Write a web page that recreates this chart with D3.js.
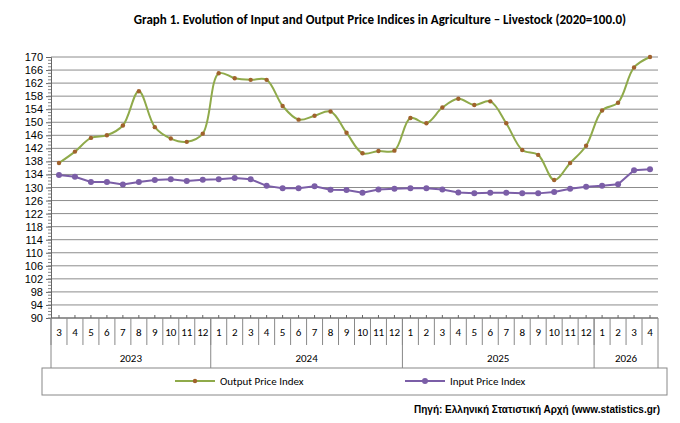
<!DOCTYPE html>
<html><head><meta charset="utf-8">
<script src="https://cdn.jsdelivr.net/npm/d3@7"></script>
<style>body{margin:0;background:#fff;font-family:Calibri,Carlito,"Liberation Sans",Arial,sans-serif}</style>
</head><body>
<svg id="chart" width="680" height="423"></svg>
<script>
const months = [3,4,5,6,7,8,9,10,11,12, 1,2,3,4,5,6,7,8,9,10,11,12, 1,2,3,4,5,6,7,8,9,10,11,12, 1,2,3,4]
const years = [{label:'2023', n:10},{label:'2024', n:12},{label:'2025', n:12},{label:'2026', n:4}]
const outputIdx = [137.5,141,145.2,146,149,159.5,148.5,145,144,146.5, 165,163.5,163,163,155,150.8,152,153.3,146.8,140.5,141.2,141.3, 151.3,149.7,154.5,157.2,155.3,156.4,149.7,141.5,140,132.3,137.5,142.8, 153.6,156,166.8,170]
const inputIdx = [133.8,133.3,131.7,131.7,130.9,131.7,132.3,132.5,132,132.4, 132.5,132.9,132.5,130.5,129.8,129.8,130.4,129.3,129.2,128.4,129.4,129.6, 129.8,129.8,129.4,128.5,128.2,128.4,128.4,128.2,128.2,128.6,129.6,130.2, 130.5,131,135.3,135.6]
const yTicks = d3.range(90, 171, 4)

const svg = d3.select('#chart')
const L = 51, R = 658, T = 57, B = 318
const x = d3.scaleBand().domain(d3.range(months.length)).range([L, R])
const y = d3.scaleLinear().domain([90, 170]).range([B, T])

// grid
svg.append('g').selectAll('line').data(yTicks).enter().append('line')
    .attr('x1', L).attr('x2', R).attr('y1', d => y(d)).attr('y2', d => y(d))
    .attr('stroke', '#8c8c8c').attr('stroke-width', 1)

// y axis
const ya = svg.append('g').attr('transform', 'translate(' + L + ',0)')
    .call(d3.axisLeft(y).tickValues(yTicks).tickSize(5).tickPadding(3))
ya.select('.domain').attr('stroke', '#666')
ya.selectAll('.tick line').attr('stroke', '#666')
ya.selectAll('text').attr('font-size', 11).attr('fill', '#000').attr('font-family', 'inherit')
svg.append('g').selectAll('line').data(d3.range(90, 170, 1)).enter().append('line')
    .attr('x1', L - 3).attr('x2', L).attr('y1', d => y(d)).attr('y2', d => y(d)).attr('stroke', '#888')

// category table
const tb = svg.append('g')
const bw = x.bandwidth()
tb.append('line').attr('x1', L).attr('x2', R).attr('y1', B).attr('y2', B).attr('stroke', '#666')
months.forEach((m, i) => {
    tb.append('line').attr('x1', x(i)).attr('x2', x(i)).attr('y1', B).attr('y2', 345).attr('stroke', '#888')
    tb.append('line').attr('x1', x(i) + bw / 2).attr('x2', x(i) + bw / 2).attr('y1', B - 3).attr('y2', B).attr('stroke', '#666')
    tb.append('text').attr('x', x(i) + bw / 2).attr('y', 336).attr('text-anchor', 'middle')
        .attr('font-size', 11).text(m)
})
tb.append('line').attr('x1', R).attr('x2', R).attr('y1', B).attr('y2', 368).attr('stroke', '#888')
let start = 0
years.forEach(yr => {
    tb.append('line').attr('x1', x(start)).attr('x2', x(start)).attr('y1', B).attr('y2', 368).attr('stroke', '#888')
    tb.append('text').attr('x', x(start) + yr.n * bw / 2).attr('y', 362).attr('text-anchor', 'middle')
        .attr('font-size', 11).text(yr.label)
    start += yr.n
})

// lines
const line = d3.line().x((d, i) => x(i) + bw / 2).y(d => y(d)).curve(d3.curveCatmullRom.alpha(0.5))
svg.append('path').datum(outputIdx).attr('d', line).attr('fill', 'none').attr('stroke', '#8faa4a').attr('stroke-width', 2)
svg.append('g').selectAll('circle').data(outputIdx).enter().append('circle')
    .attr('cx', (d, i) => x(i) + bw / 2).attr('cy', d => y(d)).attr('r', 2.2).attr('fill', '#a0622d')
svg.append('path').datum(inputIdx).attr('d', d3.line().x((d, i) => x(i) + bw / 2).y(d => y(d)))
    .attr('fill', 'none').attr('stroke', '#7b5ea7').attr('stroke-width', 2)
svg.append('g').selectAll('circle').data(inputIdx).enter().append('circle')
    .attr('cx', (d, i) => x(i) + bw / 2).attr('cy', d => y(d)).attr('r', 3).attr('fill', '#7b5ea7')

// legend
const lg = svg.append('g')
lg.append('rect').attr('x', 42).attr('y', 368).attr('width', 625).attr('height', 27).attr('fill', 'none').attr('stroke', '#888')
lg.append('line').attr('x1', 175).attr('x2', 215).attr('y1', 381).attr('y2', 381).attr('stroke', '#8faa4a').attr('stroke-width', 2)
lg.append('circle').attr('cx', 195).attr('cy', 381).attr('r', 2.2).attr('fill', '#a0622d')
lg.append('text').attr('x', 220).attr('y', 385).attr('font-size', 11).text('Output Price Index')
lg.append('line').attr('x1', 405).attr('x2', 445).attr('y1', 381).attr('y2', 381).attr('stroke', '#7b5ea7').attr('stroke-width', 2)
lg.append('circle').attr('cx', 425).attr('cy', 381).attr('r', 3).attr('fill', '#7b5ea7')
lg.append('text').attr('x', 450).attr('y', 385).attr('font-size', 11).text('Input Price Index')

svg.append('text').attr('x', 380).attr('y', 24).attr('text-anchor', 'middle').attr('font-size', 13)
    .attr('font-weight', 'bold').text('Graph 1. Evolution of Input and Output Price Indices in Agriculture \u2013  Livestock (2020=100.0)')
svg.append('text').attr('x', 660).attr('y', 413).attr('text-anchor', 'end').attr('font-size', 10)
    .attr('font-weight', 'bold').attr('font-family', 'Arial, "Liberation Sans", sans-serif')
    .text('Πηγή: Ελληνική Στατιστική Αρχή (www.statistics.gr)')
</script>
</body></html>
